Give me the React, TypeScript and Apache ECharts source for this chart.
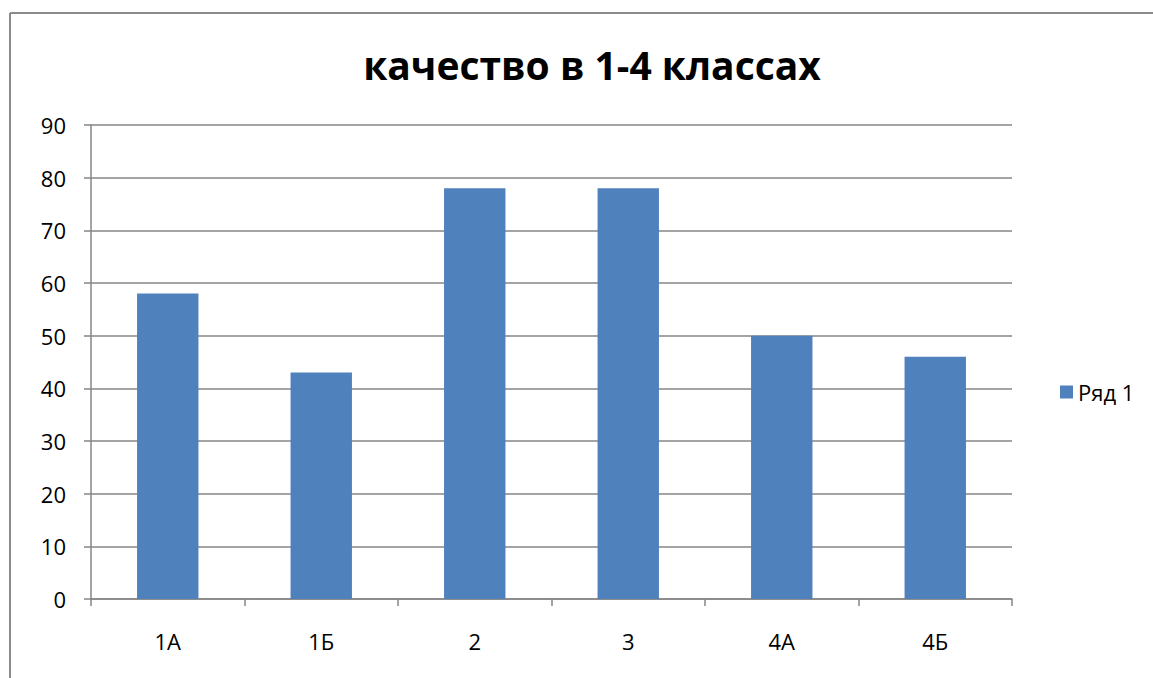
import React, { useEffect, useRef } from "react";
import * as echarts from "echarts";

const title = "качество в 1-4 классах";
const categories = ["1А", "1Б", "2", "3", "4А", "4Б"];
const seriesName = "Ряд 1";
const values = [58, 43, 78, 78, 50, 46];

export default function App() {
  const ref = useRef<HTMLDivElement>(null);
  useEffect(() => {
    if (!ref.current) return;
    const chart = echarts.init(ref.current, null, { renderer: "svg" });
    const font = "'Open Sans', 'Noto Sans', sans-serif";
    chart.setOption({
      animation: false,
      backgroundColor: "#ffffff",
      textStyle: { fontFamily: font },
      title: {
        text: title,
        left: 587,
        top: 40,
        textAlign: "center",
        textStyle: { fontFamily: font, fontWeight: "bold", fontSize: 39, color: "#000" },
      },
      legend: {
        left: 1055,
        top: 376,
        icon: "rect",
        itemWidth: 13,
        itemHeight: 13,
        itemGap: 8,
        textStyle: { fontFamily: font, fontSize: 22, color: "#000" },
        data: [seriesName],
      },
      grid: { left: 91, right: 141, top: 125, bottom: 79, containLabel: false },
      xAxis: {
        type: "category",
        data: categories,
        axisLine: { lineStyle: { color: "#868686", width: 1.5 } },
        axisTick: { show: true, length: 7, lineStyle: { color: "#868686", width: 1.5 } },
        axisLabel: { fontFamily: font, fontSize: 22, color: "#000", margin: 31 },
      },
      yAxis: {
        type: "value",
        min: 0,
        max: 90,
        interval: 10,
        axisLine: { show: true, lineStyle: { color: "#868686", width: 1.5 } },
        axisTick: { show: true, length: 7, lineStyle: { color: "#868686", width: 1.5 } },
        splitLine: { lineStyle: { color: "#868686", width: 1.5 } },
        axisLabel: { fontFamily: font, fontSize: 22, color: "#000", margin: 25 },
      },
      series: [
        {
          name: seriesName,
          type: "bar",
          data: values,
          barWidth: "40%",
          itemStyle: { color: "#4F81BD" },
        },
      ],
      graphic: [
        {
          type: "line",
          shape: { x1: 10, y1: 13, x2: 1153, y2: 13 },
          style: { stroke: "#8a8a8a", lineWidth: 2 },
        },
        {
          type: "line",
          shape: { x1: 10, y1: 13, x2: 10, y2: 678 },
          style: { stroke: "#8a8a8a", lineWidth: 2 },
        },
      ],
    });
    return () => chart.dispose();
  }, []);
  return (
    <div
      ref={ref}
      style={{ position: "fixed", left: 0, top: 0, width: 1153, height: 678 }}
    />
  );
}
